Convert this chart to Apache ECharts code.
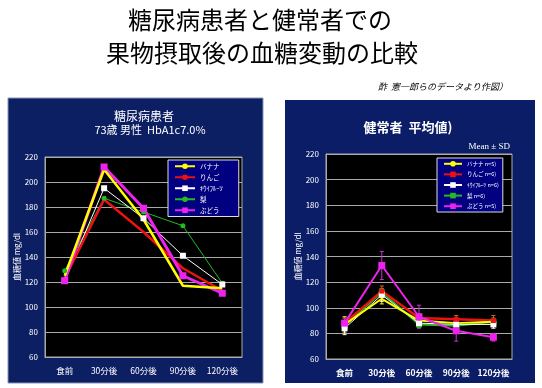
<!DOCTYPE html>
<html><head><meta charset="utf-8">
<script src="https://cdn.jsdelivr.net/npm/echarts@6/dist/echarts.min.js"></script>
<style>html,body{margin:0;padding:0;background:#fff}#c{width:542px;height:388px}</style>
</head><body><div id="c"></div><script>
const categories = ['食前', '30分後', '60分後', '90分後', '120分後'];
const yMin = 60, yMax = 220, yStep = 20;

// 糖尿病患者 (73歳 男性)
const dmBanana = [125, 210, 170, 117, 115];
const dmApple  = [123, 186, 160, 131, 113];
const dmKiwi   = [121, 195, 171, 141, 118];
const dmPear   = [129, 187, 176, 165, 119];
const dmGrape  = [121, 212, 179, 125, 111];

// 健常者 平均値
const hBanana = [87, 107, 90, 88, 89];
const hApple  = [88, 113, 92, 91, 90];
const hKiwi   = [84, 110, 88, 87, 87];
const hPear   = [86, 112, 87, 86, 89];
const hGrape  = [88, 133, 93, 82, 77];
// SD
const sdBanana = [6, 4, 3, 2, 2];
const sdApple  = [4, 4, 3, 3, 4];
const sdKiwi   = [5, 5, 3, 3, 3];
const sdPear   = [3, 3, 2, 2, 3];
const sdGrape  = [4, 11, 9, 8, 3];

const leftNames  = ['バナナ', 'りんご', 'ｷｳｲﾌﾙｰﾂ', '梨', 'ぶどう'];
const rightNames = ['バナナ n=5)', 'りんご n=6)', 'ｷｳｲﾌﾙｰﾂ n=6)', '梨 n=6)', 'ぶどう n=5)'];

const FONT = '"Noto Sans CJK JP", "Noto Sans", sans-serif';
const C = { yellow: '#ffff00', red: '#ee1111', white: '#ffffff', green: '#22bb22', grape: '#ee22ee' };

function errBars(name, means, sds, color) {
  return {
    type: 'custom', name: name + '_err', xAxisIndex: 1, yAxisIndex: 1, z: 1,
    data: means.map((m, i) => [i, m - sds[i], m + sds[i]]),
    renderItem: function (params, api) {
      const lo = api.coord([api.value(0), api.value(1)]);
      const hi = api.coord([api.value(0), api.value(2)]);
      const w = 2;
      return { type: 'group', children: [
        { type: 'line', shape: { x1: lo[0], y1: lo[1], x2: hi[0], y2: hi[1] }, style: { stroke: color, lineWidth: 1 } },
        { type: 'line', shape: { x1: hi[0] - w, y1: hi[1], x2: hi[0] + w, y2: hi[1] }, style: { stroke: color, lineWidth: 1 } },
        { type: 'line', shape: { x1: lo[0] - w, y1: lo[1], x2: lo[0] + w, y2: lo[1] }, style: { stroke: color, lineWidth: 1 } }
      ]};
    },
    silent: true
  };
}

function lineSeries(name, data, color, width, symbol, size, idx) {
  return {
    type: 'line', name: name, data: data, xAxisIndex: idx, yAxisIndex: idx,
    symbol: symbol, symbolSize: size, showSymbol: symbol !== 'none',
    lineStyle: { color: color, width: width }, itemStyle: { color: color },
    animation: false, z: 3
  };
}

function xAxis(idx, fs, bold) {
  return {
    type: 'category', gridIndex: idx, data: categories, boundaryGap: true,
    axisLine: { lineStyle: { color: '#aaaaaa' } },
    axisTick: { inside: true, length: 3, lineStyle: { color: '#aaaaaa' } },
    axisLabel: { interval: 0, color: '#ffffff', fontSize: fs, fontWeight: bold ? 'bold' : 'normal', fontFamily: FONT, margin: 10 },
    splitLine: { show: false }
  };
}
function yAxis(idx, nameGap) {
  return {
    type: 'value', gridIndex: idx, min: yMin, max: yMax, interval: yStep,
    name: '血糖値 mg/dl', nameLocation: 'middle', nameGap: nameGap, nameRotate: 90,
    nameTextStyle: { color: '#ffffff', fontSize: 8, fontFamily: FONT },
    axisLine: { show: true, lineStyle: { color: '#aaaaaa' } },
    axisTick: { show: false },
    axisLabel: { color: '#ffffff', fontSize: 8, fontFamily: FONT, margin: 7 },
    splitLine: { lineStyle: { color: '#aaaaaa', width: 1 } }
  };
}

const chart = echarts.init(document.getElementById('c'), null, { renderer: 'canvas' });
chart.setOption({
  animation: false,
  backgroundColor: '#ffffff',
  graphic: [
    { type: 'rect', shape: { x: 8, y: 98, width: 255, height: 285 }, style: { fill: '#0c1f63', stroke: '#8a93b8', lineWidth: 1 }, z: -10 },
    { type: 'rect', shape: { x: 285, y: 100, width: 250, height: 283 }, style: { fill: '#0a1d66' }, z: -10 },
    { type: 'text', x: 260, y: 20, style: { text: '糖尿病患者と健常者での', font: '24px ' + FONT, fill: '#000', align: 'center', verticalAlign: 'middle' } },
    { type: 'text', x: 262, y: 53, style: { text: '果物摂取後の血糖変動の比較', font: '24px ' + FONT, fill: '#000', align: 'center', verticalAlign: 'middle' } },
    { type: 'text', x: 508, y: 87, style: { text: '酢  憲一郎らのデータより作図）', font: 'italic 9px ' + FONT, fill: '#000', align: 'right', verticalAlign: 'middle' } },
    { type: 'text', x: 144, y: 116, style: { text: '糖尿病患者', font: '12px ' + FONT, fill: '#fff', align: 'center', verticalAlign: 'middle' } },
    { type: 'text', x: 150, y: 130, style: { text: '73歳 男性  HbA1c7.0%', font: '11px ' + FONT, fill: '#fff', align: 'center', verticalAlign: 'middle' } },
    { type: 'text', x: 408, y: 127, style: { text: '健常者  平均値)', font: 'bold 13px ' + FONT, fill: '#fff', align: 'center', verticalAlign: 'middle' } },
    { type: 'text', x: 510, y: 147, style: { text: 'Mean ± SD', font: '9px "Liberation Serif", serif', fill: '#fff', align: 'right', verticalAlign: 'middle' } }
  ],
  grid: [
    { left: 45, top: 157, width: 197, height: 200, show: true, backgroundColor: '#000000', borderColor: '#aaaaaa', borderWidth: 1 },
    { left: 326, top: 154, width: 186, height: 205, show: true, backgroundColor: '#000000', borderColor: '#aaaaaa', borderWidth: 1 }
  ],
  xAxis: [xAxis(0, 8.5, false), xAxis(1, 8.5, true)],
  yAxis: [yAxis(0, 24), yAxis(1, 22)],
  legend: [
    { data: leftNames, orient: 'vertical', left: 168, top: 160,
      backgroundColor: '#000080', borderColor: '#dddddd', borderWidth: 1, padding: [3, 16, 3, 6],
      itemWidth: 20, itemHeight: 7, itemGap: 4.5,
      textStyle: { color: '#ffffff', fontSize: 6.5, fontFamily: FONT } },
    { data: rightNames, orient: 'vertical', left: 437, top: 158,
      backgroundColor: '#000080', borderColor: '#dddddd', borderWidth: 1, padding: [3, 4, 3, 6],
      itemWidth: 18, itemHeight: 7, itemGap: 5,
      textStyle: { color: '#ffffff', fontSize: 5.5, fontFamily: FONT } }
  ],
  series: [
    lineSeries('梨', dmPear, C.green, 1, 'circle', 5, 0),
    lineSeries('ｷｳｲﾌﾙｰﾂ', dmKiwi, C.white, 1, 'rect', 6, 0),
    lineSeries('りんご', dmApple, C.red, 2.5, 'none', 0, 0),
    lineSeries('ぶどう', dmGrape, C.grape, 3, 'rect', 7, 0),
    lineSeries('バナナ', dmBanana, C.yellow, 2.5, 'none', 0, 0),

    errBars('バナナ', hBanana, sdBanana, C.yellow),
    errBars('りんご', hApple, sdApple, '#dd6611'),
    errBars('ｷｳｲﾌﾙｰﾂ', hKiwi, sdKiwi, C.white),
    errBars('梨', hPear, sdPear, C.green),
    errBars('ぶどう', hGrape, sdGrape, '#cc33cc'),

    lineSeries('梨 n=6)', hPear, C.green, 2, 'rect', 6, 1),
    lineSeries('ｷｳｲﾌﾙｰﾂ n=6)', hKiwi, C.white, 1, 'rect', 6, 1),
    lineSeries('りんご n=6)', hApple, C.red, 2.5, 'rect', 5, 1),
    lineSeries('バナナ n=5)', hBanana, C.yellow, 2, 'none', 0, 1),
    lineSeries('ぶどう n=5)', hGrape, C.grape, 2, 'rect', 7, 1)
  ]
});
</script></body></html>
